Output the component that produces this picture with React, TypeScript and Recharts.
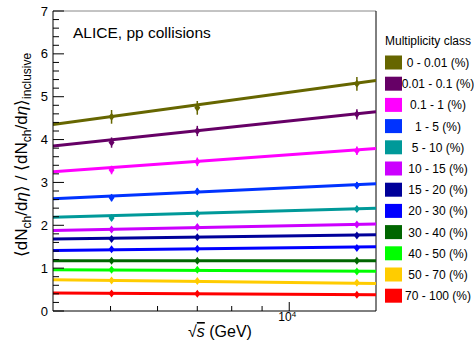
import React from "react"
import {
  ComposedChart,
  ErrorBar,
  Line,
  ReferenceLine,
  Scatter,
  XAxis,
  YAxis,
} from "recharts"

const classes = [
  "0 - 0.01 (%)",
  "0.01 - 0.1 (%)",
  "0.1 - 1 (%)",
  "1 - 5 (%)",
  "5 - 10 (%)",
  "10 - 15 (%)",
  "15 - 20 (%)",
  "20 - 30 (%)",
  "30 - 40 (%)",
  "40 - 50 (%)",
  "50 - 70 (%)",
  "70 - 100 (%)",
]

const colors = [
  "#666600",
  "#660066",
  "#ff00ff",
  "#0033ff",
  "#009999",
  "#cc00ff",
  "#000099",
  "#0000ff",
  "#006600",
  "#00ff00",
  "#ffcc00",
  "#ff0000",
]

// collision energies (GeV)
const energies = [5020, 7000, 13000]
const fitRange = [4000, 14000]

// fit values at the two ends of the x range
const fitLow = [4.35, 3.85, 3.25, 2.62, 2.19, 1.88, 1.68, 1.41, 1.17, 0.96, 0.73, 0.42]
const fitHigh = [5.38, 4.65, 3.79, 2.97, 2.4, 2.03, 1.78, 1.5, 1.17, 0.93, 0.64, 0.38]

// measured points
const at5020 = [4.53, 3.93, 3.29, 2.64, 2.17, 1.9, 1.68, 1.44, 1.17, 0.96, 0.71, 0.41]
const at7000 = [4.74, 4.2, 3.48, 2.79, 2.27, 1.96, 1.72, 1.45, 1.17, 0.96, 0.7, 0.4]
const at13000 = [5.3, 4.59, 3.74, 2.93, 2.38, 2.02, 1.76, 1.47, 1.17, 0.92, 0.66, 0.38]
const errors = [0.16, 0.12, 0.1, 0.08, 0.06, 0.05, 0.05, 0.04, 0.04, 0.03, 0.03, 0.03]

const yMajor = [0, 1, 2, 3, 4, 5, 6, 7]
const yTicks = Array.from({ length: 36 }, (_, i) => Math.round(i * 2) / 10)
const xTicks = [5000, 6000, 7000, 8000, 9000, 10000]

const font = "'Liberation Sans', Arial, sans-serif"

const YTick = (props: any) => {
  const { x, y, payload } = props
  const v = payload.value
  const major = yMajor.includes(v)
  const ax = x + 4
  return (
    <g>
      <line x1={ax} x2={ax + (major ? 11 : 6)} y1={y} y2={y} stroke="#000" />
      {major && (
        <text x={x - 1} y={y} dy={4.5} textAnchor="end" fontSize={13} fontFamily={font} fill="#000">
          {v}
        </text>
      )}
    </g>
  )
}

const XTick = (props: any) => {
  const { x, y, payload } = props
  const major = payload.value === 10000
  return (
    <g>
      <line x1={x} x2={x} y1={y} y2={y - (major ? 9 : 5)} stroke="#000" />
      {major && (
        <text x={x - 2} y={y + 10} textAnchor="middle" fontSize={12} fontFamily={font} fill="#000">
          10
          <tspan dy={-4} fontSize={8}>4</tspan>
        </text>
      )}
    </g>
  )
}

const Diamond = (props: any) => {
  const { cx, cy, fill } = props
  if (cx == null || cy == null) return null
  return <polygon points={`${cx},${cy - 4} ${cx + 3},${cy} ${cx},${cy + 4} ${cx - 3},${cy}`} fill={fill} />
}

const br = "'DejaVu Sans', sans-serif"

export default function App() {
  return (
    <div style={{ position: "absolute", left: 0, top: 0, width: 474, height: 343, background: "#fff" }}>
      <ComposedChart width={474} height={343} margin={{ top: 11, right: 98, bottom: 0, left: 0 }}>
        <XAxis
          dataKey="x"
          type="number"
          scale="log"
          domain={fitRange}
          ticks={xTicks}
          interval={0}
          allowDataOverflow
          height={32}
          tickSize={0}
          tickMargin={0}
          tickLine={false}
          tick={<XTick />}
          axisLine={{ stroke: "#000" }}
        />
        <YAxis
          type="number"
          domain={[0, 7]}
          ticks={yTicks}
          interval={0}
          width={53}
          tickSize={0}
          tickMargin={4}
          tickLine={false}
          tick={<YTick />}
          axisLine={{ stroke: "#000" }}
        />
        <ReferenceLine y={7} stroke="#888" />
        <ReferenceLine x={14000} stroke="#000" />
        {classes.map((c, i) => (
          <Line
            key={"fit" + c}
            data={[
              { x: fitRange[0], y: fitLow[i] },
              { x: fitRange[1], y: fitHigh[i] },
            ]}
            dataKey="y"
            stroke={colors[i]}
            strokeWidth={3}
            dot={false}
            isAnimationActive={false}
          />
        ))}
        {classes.map((c, i) => (
          <Scatter
            key={"pt" + c}
            data={[
              { x: energies[0], y: at5020[i], e: errors[i] },
              { x: energies[1], y: at7000[i], e: errors[i] },
              { x: energies[2], y: at13000[i], e: errors[i] },
            ]}
            dataKey="y"
            fill={colors[i]}
            shape={<Diamond />}
            isAnimationActive={false}
          >
            <ErrorBar dataKey="e" direction="y" width={0} stroke={colors[i]} strokeWidth={1.5} />
          </Scatter>
        ))}
      </ComposedChart>
      <svg
        width={474}
        height={343}
        style={{ position: "absolute", left: 0, top: 0, pointerEvents: "none" }}
        fontFamily={font}
      >
        <text x={73} y={38} fontSize={15.5} fill="#000">ALICE, pp collisions</text>
        <text x={220} y={337} fontSize={16} textAnchor="middle" fill="#000">
          √<tspan fontStyle="italic" textDecoration="overline">s</tspan> (GeV)
        </text>
        <text x={27} y={155} fontSize={17} textAnchor="middle" fill="#000" transform="rotate(-90 27 155)">
          <tspan fontFamily={br} fontWeight={200}>⟨</tspan>dN<tspan dy={4} fontSize={12}>ch</tspan>
          <tspan dy={-4}>/d</tspan>
          <tspan fontStyle="italic">η</tspan>
          <tspan fontFamily={br} fontWeight={200}>⟩</tspan> / <tspan fontFamily={br} fontWeight={200}>⟨</tspan>dN
          <tspan dy={4} fontSize={12}>ch</tspan>
          <tspan dy={-4}>/d</tspan>
          <tspan fontStyle="italic">η</tspan>
          <tspan fontFamily={br} fontWeight={200}>⟩</tspan>
          <tspan dy={4} fontSize={12}>inclusive</tspan>
        </text>
        <text x={385} y={45} fontSize={12} fill="#000">Multiplicity class</text>
        {classes.map((c, i) => (
          <g key={"lg" + c}>
            <rect x={385} y={62.5 + 21.2 * i - 7} width={17} height={14} fill={colors[i]} />
            <text x={438} y={62.5 + 21.2 * i} dy={4.5} fontSize={12} textAnchor="middle" fill="#000">
              {c}
            </text>
          </g>
        ))}
      </svg>
    </div>
  )
}
